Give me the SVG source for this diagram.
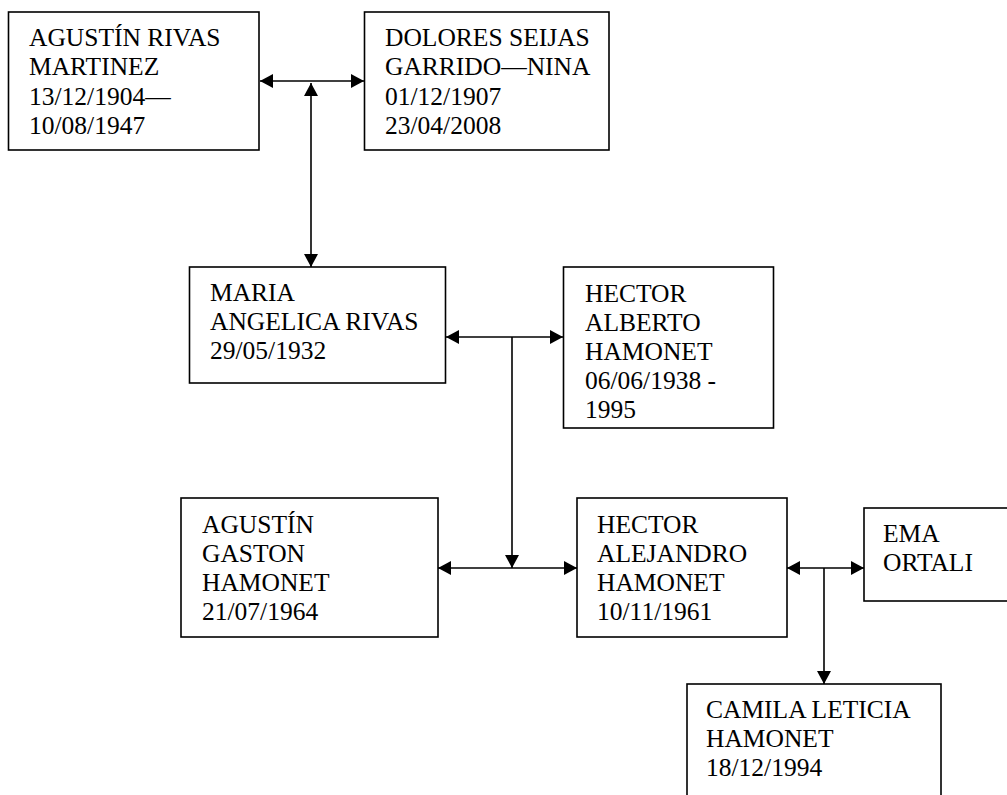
<svg xmlns="http://www.w3.org/2000/svg" width="1007" height="795" viewBox="0 0 1007 795">
<style>
.box{fill:#fff;stroke:#000;stroke-width:1.6}
.c{stroke:#000;stroke-width:1.6;fill:none}
text{font-family:"Times New Roman","Liberation Serif",Times,serif;font-size:25.5px;fill:#000}
</style>
<defs>
<marker id="ah" viewBox="0 0 13 14" refX="13" refY="7" markerWidth="13" markerHeight="14" markerUnits="userSpaceOnUse" orient="auto-start-reverse">
<path d="M0,0 L13,7 L0,14 Z" fill="#000"/>
</marker>
</defs>
<rect width="1007" height="795" fill="#fff"/>
<g id="connectors">
<line class="c" x1="260" y1="81" x2="364" y2="81" marker-start="url(#ah)" marker-end="url(#ah)"/>
<line class="c" x1="311" y1="83" x2="311" y2="267" marker-start="url(#ah)" marker-end="url(#ah)"/>
<line class="c" x1="446" y1="337" x2="563" y2="337" marker-start="url(#ah)" marker-end="url(#ah)"/>
<line class="c" x1="512" y1="337" x2="512" y2="568" marker-end="url(#ah)"/>
<line class="c" x1="438" y1="568" x2="577" y2="568" marker-start="url(#ah)" marker-end="url(#ah)"/>
<line class="c" x1="787" y1="568" x2="864" y2="568" marker-start="url(#ah)" marker-end="url(#ah)"/>
<line class="c" x1="824" y1="568" x2="824" y2="684" marker-end="url(#ah)"/>
</g>
<g id="agustin-rivas">
<rect class="box" x="8.5" y="12" width="250.5" height="138"/>
<text x="29" y="46">AGUSTÍN RIVAS</text>
<text x="29" y="75">MARTINEZ</text>
<text x="29" y="104.5">13/12/1904—</text>
<text x="29" y="134">10/08/1947</text>
</g>
<g id="dolores-seijas">
<rect class="box" x="364.5" y="12" width="244.5" height="138"/>
<text x="385" y="46">DOLORES SEIJAS</text>
<text x="385" y="75">GARRIDO—NINA</text>
<text x="385" y="104.5">01/12/1907</text>
<text x="385" y="134">23/04/2008</text>
</g>
<g id="maria-angelica">
<rect class="box" x="189.5" y="267" width="256" height="116"/>
<text x="210" y="301">MARIA</text>
<text x="210" y="330">ANGELICA RIVAS</text>
<text x="210" y="359">29/05/1932</text>
</g>
<g id="hector-alberto">
<rect class="box" x="563.5" y="267" width="210" height="161"/>
<text x="585" y="302">HECTOR</text>
<text x="585" y="331">ALBERTO</text>
<text x="585" y="360">HAMONET</text>
<text x="585" y="389">06/06/1938 -</text>
<text x="585" y="418">1995</text>
</g>
<g id="agustin-gaston">
<rect class="box" x="181" y="498" width="257" height="139"/>
<text x="202" y="533">AGUSTÍN</text>
<text x="202" y="562">GASTON</text>
<text x="202" y="591">HAMONET</text>
<text x="202" y="620">21/07/1964</text>
</g>
<g id="hector-alejandro">
<rect class="box" x="577" y="498" width="210" height="139"/>
<text x="597" y="533">HECTOR</text>
<text x="597" y="562">ALEJANDRO</text>
<text x="597" y="591">HAMONET</text>
<text x="597" y="620">10/11/1961</text>
</g>
<g id="ema-ortali">
<rect class="box" x="864" y="508" width="160" height="93"/>
<text x="883" y="542">EMA</text>
<text x="883" y="571">ORTALI</text>
</g>
<g id="camila-leticia">
<rect class="box" x="687" y="684" width="254" height="130"/>
<text x="706" y="718">CAMILA LETICIA</text>
<text x="706" y="747">HAMONET</text>
<text x="706" y="776">18/12/1994</text>
</g>
</svg>
